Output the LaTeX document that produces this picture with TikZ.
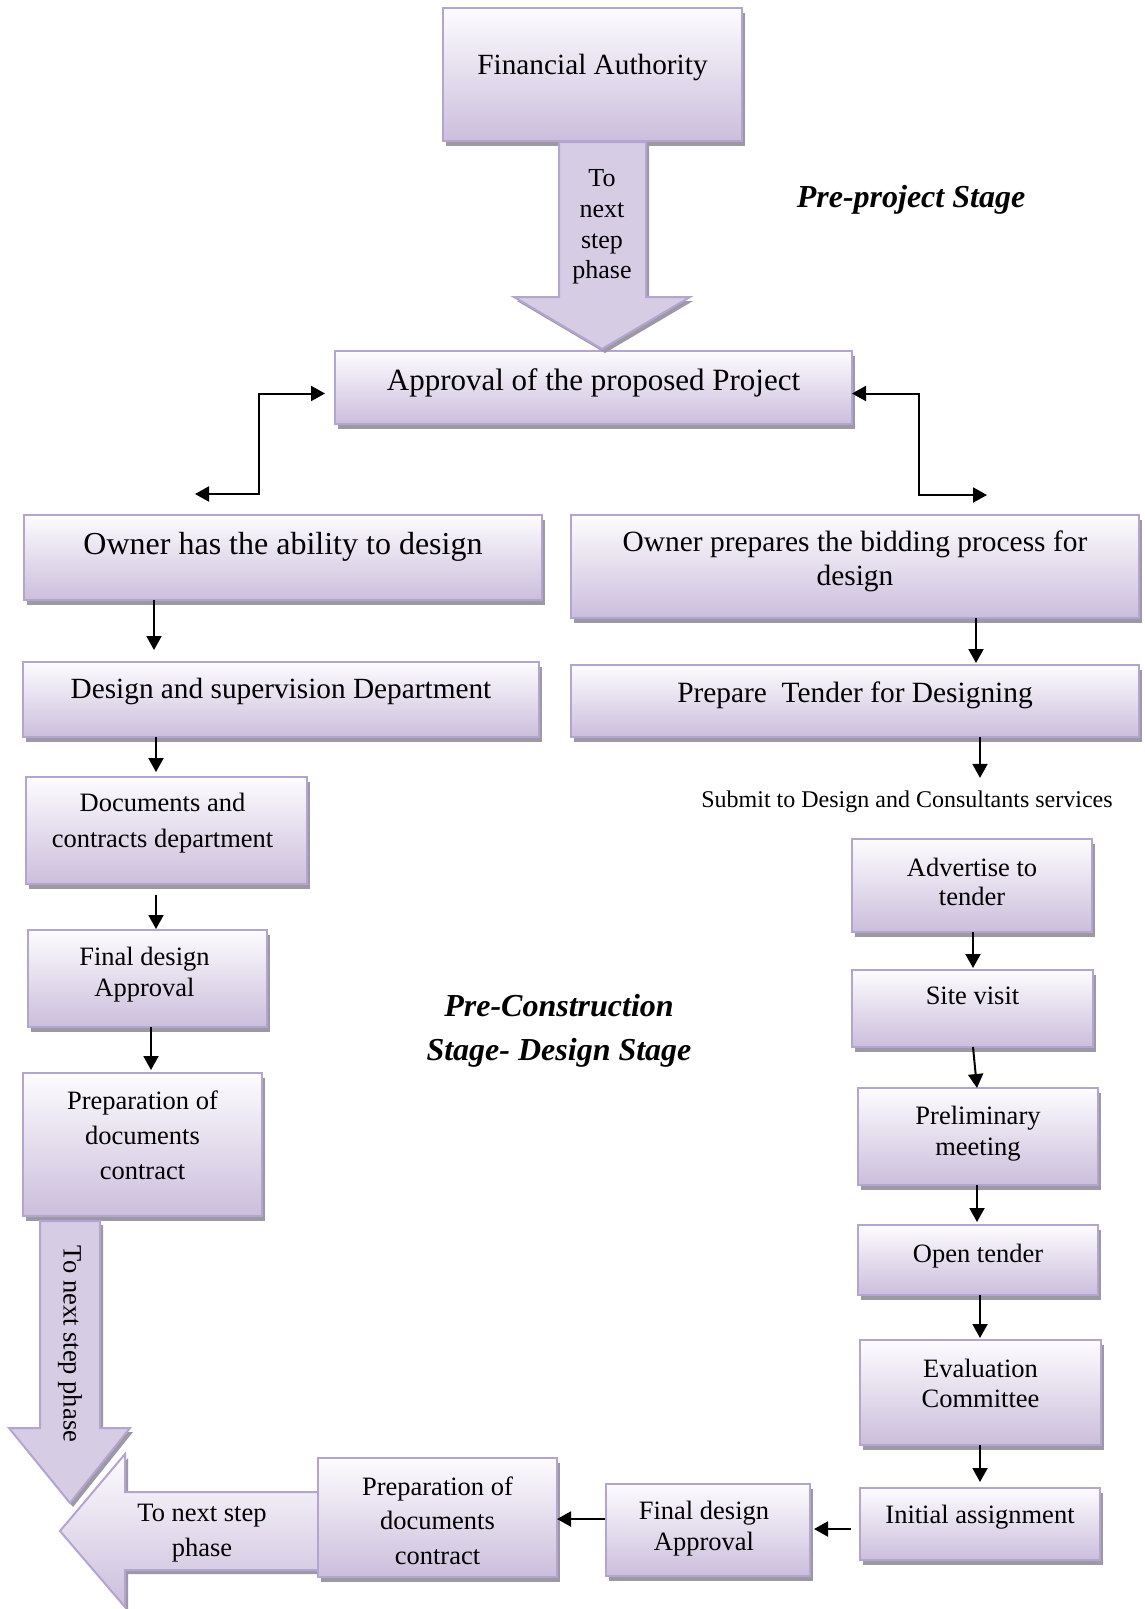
\documentclass[tikz,border=0pt]{standalone}
\usepackage{fontspec}
\setmainfont{Liberation Serif}
\usetikzlibrary{arrows.meta,shadows,calc}
\definecolor{lavtop}{HTML}{FDFCFE}
\definecolor{lavbot}{HTML}{CBBEDC}
\definecolor{lavline}{HTML}{B4A4D1}
\definecolor{shadowgray}{HTML}{9D99A2}
\definecolor{arrowfill}{HTML}{D6CCE4}
\newcommand\fsz[2]{\fontsize{#1}{#2}\selectfont}
\begin{document}
\begin{tikzpicture}[x=1pt,y=-1pt,
  box/.style={draw=lavline, line width=2.2pt, top color=lavtop, bottom color=lavbot,
    inner sep=0pt, outer sep=0pt,
    general shadow={fill=shadowgray, shadow xshift=3pt, shadow yshift=-5pt}},
  lbl/.style={align=center, inner sep=0pt, text=black},
  conn/.style={line width=2pt, -{Triangle[length=14pt,width=15pt]}},
  dconn/.style={line width=2pt, {Triangle[length=14pt,width=15pt]}-{Triangle[length=14pt,width=15pt]}},
  blockarrow/.style={draw=lavline, line width=2pt, fill=arrowfill,
    general shadow={fill=shadowgray, shadow xshift=3pt, shadow yshift=-4pt}},
  stage/.style={font=\fsz{32}{44}\bfseries\itshape, align=center, inner sep=0pt}
]
\useasboundingbox (0,0) rectangle (1145,1609);

% ---------- pre-project stage ----------
\node[box, minimum width=299pt, minimum height=133pt] (fa) at (592.5,74.5) {};
\node[lbl, font=\fsz{29.3}{34}] (fa-t) at ([yshift=7pt]fa.center) {Financial Authority};

\node[box, minimum width=517pt, minimum height=73pt] (ap) at (593.5,387.5) {};
\node[lbl, font=\fsz{31}{36}] (ap-t) at ([yshift=4.5pt]ap.center) {Approval of the proposed Project};

\node[stage] (st1) at (911,200) {Pre-project Stage};

% block arrow from the financial authority down to the approval
\draw[blockarrow] (559,142) -- (646,142) -- (646,297) -- (690,297) -- (602,349)
  -- (514,297) -- (559,297) -- cycle;
\node[lbl, font=\fsz{26}{30.8}] (ar1) at (602,227) {To\\next\\step\\phase};

% ---------- left branch ----------
\node[box, minimum width=518pt, minimum height=85pt] (oa) at (283,557.5) {};
\node[lbl, font=\fsz{32}{36}] (oa-t) at ([yshift=10.5pt]oa.center) {Owner has the ability to design};

\node[box, minimum width=516pt, minimum height=75pt] (dd) at (281,699.5) {};
\node[lbl, font=\fsz{29.3}{34}] (dd-t) at ([yshift=8.5pt]dd.center) {Design and supervision Department};

\node[box, minimum width=281pt, minimum height=107pt] (dc) at (166.5,830.5) {};
\node[lbl, font=\fsz{26.5}{36}] (dc-t) at ([xshift=-4pt,yshift=7.5pt]dc.center) {Documents and\\contracts department};

\node[box, minimum width=239pt, minimum height=97pt] (fdl) at (147.5,978.5) {};
\node[lbl, font=\fsz{26.5}{31}] (fdl-t) at ([xshift=-3pt,yshift=4pt]fdl.center) {Final design\\Approval};

\node[box, minimum width=239pt, minimum height=143pt] (ppl) at (142.5,1144.5) {};
\node[lbl, font=\fsz{26.5}{35}] (ppl-t) at ([yshift=9.5pt]ppl.center) {Preparation of\\documents\\contract};

% ---------- right branch ----------
\node[box, minimum width=568pt, minimum height=103pt] (op) at (855,566.5) {};
\node[lbl, font=\fsz{29.4}{34}] (op-t) at ([yshift=5.5pt]op.center) {Owner prepares the bidding process for\\design};

\node[box, minimum width=568pt, minimum height=72pt] (pt) at (855,701) {};
\node[lbl, font=\fsz{29.4}{34}] (pt-t) at ([yshift=6pt]pt.center) {Prepare\ \ Tender for Designing};

\node[lbl, font=\fsz{24}{28}] (sub) at (907,802) {Submit to Design and Consultants services};

\node[box, minimum width=240pt, minimum height=93pt] (adv) at (972,885.5) {};
\node[lbl, font=\fsz{26.5}{29}] (adv-t) at ([yshift=4pt]adv.center) {Advertise to\\tender};

\node[box, minimum width=241pt, minimum height=77pt] (sv) at (972.5,1008.5) {};
\node[lbl, font=\fsz{26.5}{31}] (sv-t) at ([yshift=12.5pt]sv.center) {Site visit};

\node[box, minimum width=240pt, minimum height=97pt] (pm) at (978,1136.5) {};
\node[lbl, font=\fsz{26.5}{31}] (pm-t) at ([yshift=3pt]pm.center) {Preliminary\\meeting};

\node[box, minimum width=240pt, minimum height=70pt] (ot) at (978,1260) {};
\node[lbl, font=\fsz{26.5}{31}] (ot-t) at ([yshift=4pt]ot.center) {Open tender};

\node[box, minimum width=241pt, minimum height=105pt] (ec) at (980.5,1392.5) {};
\node[lbl, font=\fsz{26.5}{30}] (ec-t) at ([yshift=9.5pt]ec.center) {Evaluation\\Committee};

\node[box, minimum width=240pt, minimum height=72pt] (ia) at (980,1524) {};
\node[lbl, font=\fsz{26.5}{31}] (ia-t) at ([yshift=7pt]ia.center) {Initial assignment};

\node[box, minimum width=204pt, minimum height=92pt] (fdb) at (708,1530) {};
\node[lbl, font=\fsz{26.5}{31}] (fdb-t) at ([xshift=-4pt,yshift=1.5pt]fdb.center) {Final design\\Approval};

% block arrows of the lower left corner
\draw[blockarrow] (40,1221) -- (100,1221) -- (100,1428) -- (130,1428) -- (70,1503)
  -- (9,1428) -- (40,1428) -- cycle;
\node[lbl, rotate=-90, font=\fsz{26.5}{30}] (ar2) at (70,1344) {To next step phase};

\draw[blockarrow, fill=none, top color=lavtop, bottom color=lavbot]
  (330,1492) -- (330,1570) -- (125,1570) -- (125,1607) -- (60,1531)
  -- (125,1454) -- (125,1492) -- cycle;
\node[lbl, font=\fsz{26.5}{35}] (ar3) at (202,1533.5) {To next step\\phase};

\node[box, minimum width=239pt, minimum height=119pt] (ppb) at (437.5,1517.5) {};
\node[lbl, font=\fsz{26.5}{34.5}] (ppb-t) at ([yshift=-3pt]ppb.center) {Preparation of\\documents\\contract};

\node[stage] (st2) at (559,1030.5) {Pre-Construction\\Stage- Design Stage};

% ---------- connectors ----------
\coordinate (lend) at (195,494);
\coordinate (rend) at (987,495);
\draw[dconn] (lend) -- ++(64,0) |- ($(ap.west)+(-10,6)$);
\draw[dconn] ($(ap.east)+(0,6)$) -- ++(67,0) |- (rend);

\draw[conn, shorten >=12pt] ($(oa.south west)+(130,0)$) -- ($(oa.south west |- dd.north)+(130,0)$);
\draw[conn, shorten >=5pt] ($(dd.south west)+(133,0)$) -- ($(dd.south west |- dc.north)+(133,0)$);
\draw[conn, shorten <=11pt, shorten >=1pt] ($(dc.south west)+(130,0)$) -- ($(dc.south west |- fdl.north)+(130,0)$);
\draw[conn, shorten >=3pt] ($(fdl.south west)+(123,0)$) -- ($(fdl.south west |- ppl.north)+(123,0)$);

\draw[conn, shorten >=2pt] ($(op.south west)+(405,0)$) -- ($(op.south west |- pt.north)+(405,0)$);
\draw[conn, shorten >=13pt] ($(pt.south west)+(409,0)$) -- ($(pt.south west |- sub.north)+(409,0)$);
\draw[conn, shorten >=2pt] ($(adv.south west)+(121,0)$) -- ($(adv.south west |- sv.north)+(121,0)$);
\draw[conn] ($(sv.south west)+(121,0)$) -- ($(pm.north west)+(119,0)$);
\draw[conn, shorten >=3pt] ($(pm.south west)+(119,0)$) -- ($(pm.south west |- ot.north)+(119,0)$);
\draw[conn, shorten >=2pt] ($(ot.south west)+(122,0)$) -- ($(ot.south west |- ec.north)+(122,0)$);
\draw[conn, shorten >=6pt] ($(ec.south west)+(120,0)$) -- ($(ec.south west |- ia.north)+(120,0)$);

\draw[conn, shorten <=9pt, shorten >=4pt] ($(ia.west)+(0,5)$) -- ($(ia.west -| fdb.east)+(0,5)$);
\draw[conn, shorten <=1pt] ($(fdb.west)+(0,-11)$) -- ($(fdb.west -| ppb.east)+(0,-11)$);
\end{tikzpicture}
\end{document}
